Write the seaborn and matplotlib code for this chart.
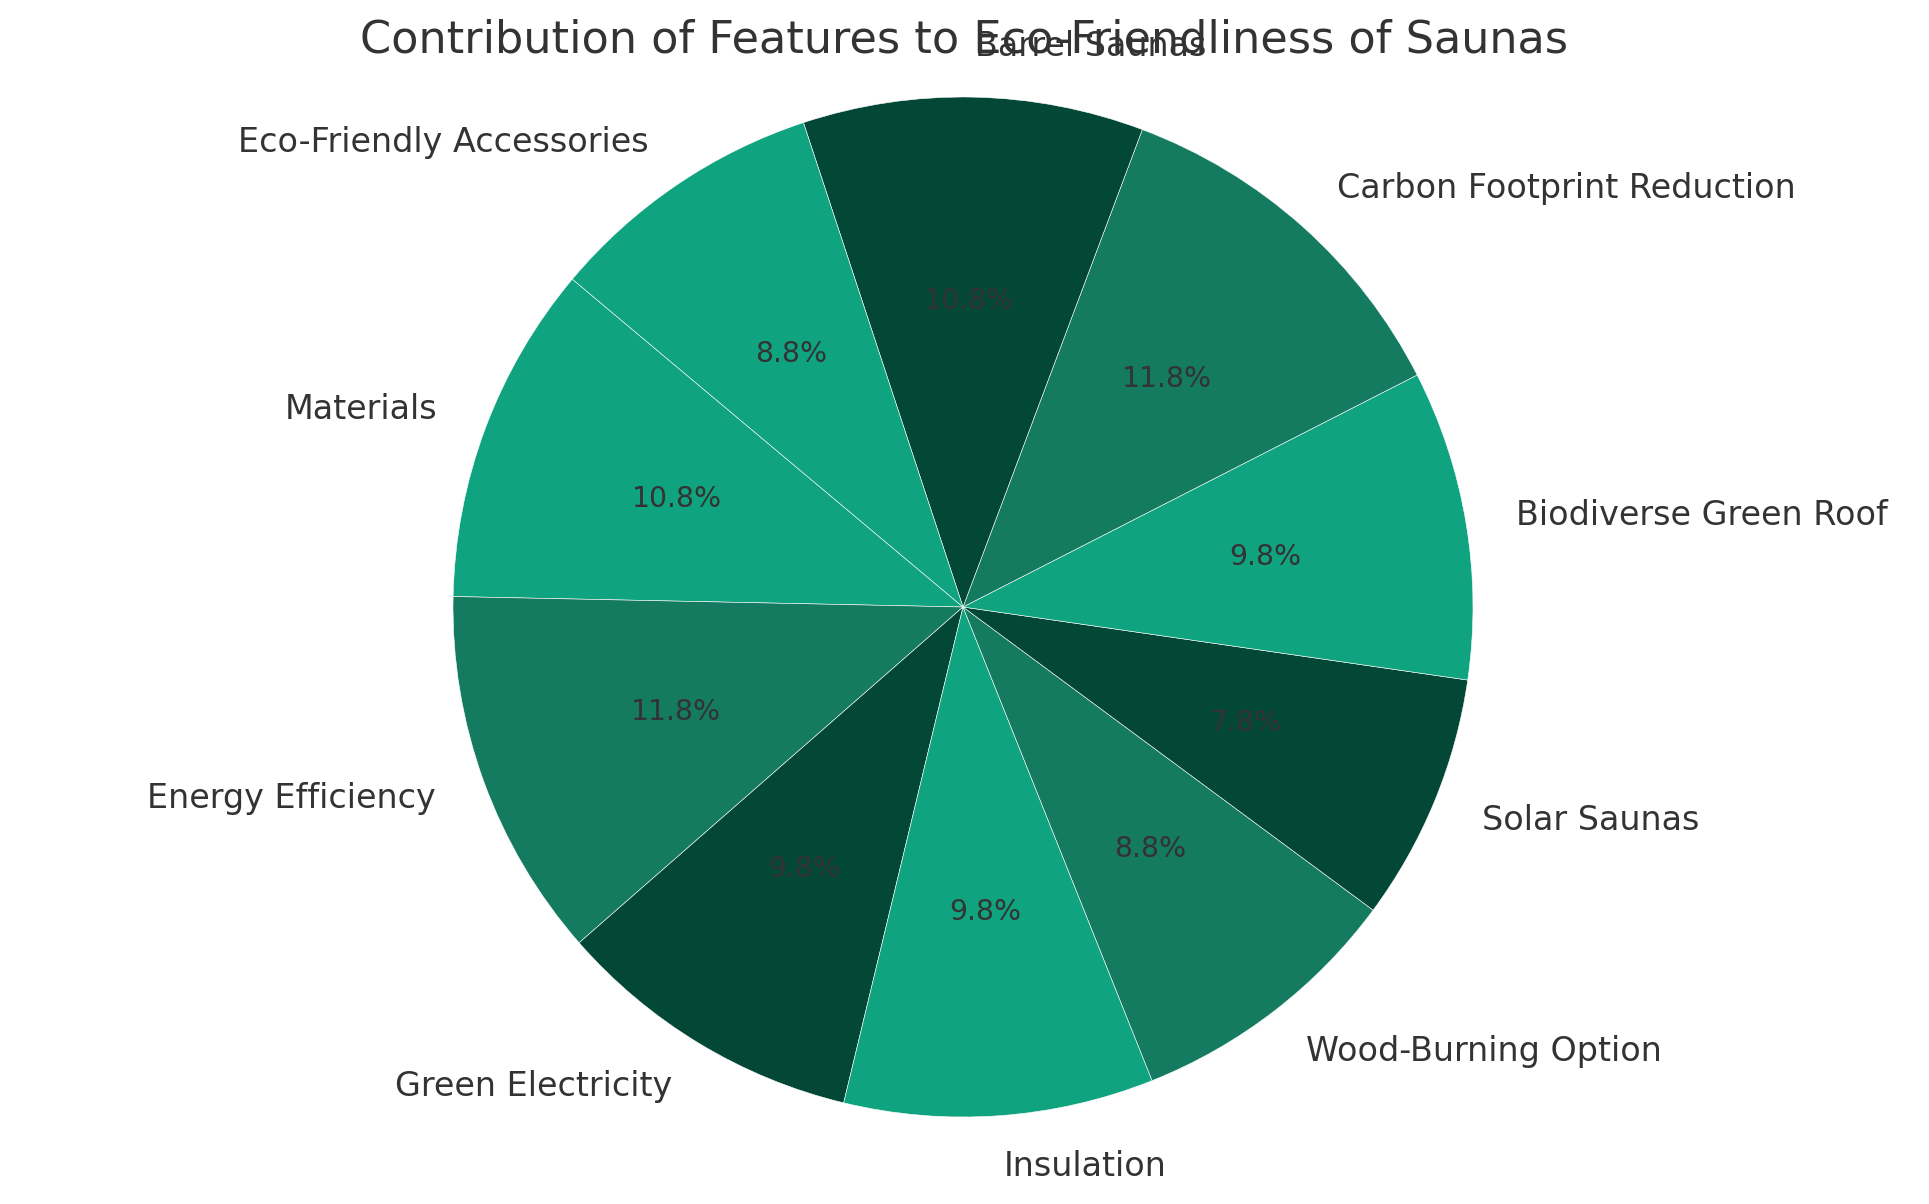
"""Pie chart: contribution of features to eco-friendliness of saunas."""
import matplotlib
matplotlib.use("Agg")
import matplotlib.pyplot as plt
import seaborn as sns

features = [
    "Materials",
    "Energy Efficiency",
    "Green Electricity",
    "Insulation",
    "Wood-Burning Option",
    "Solar Saunas",
    "Biodiverse Green Roof",
    "Carbon Footprint Reduction",
    "Barrel Saunas",
    "Eco-Friendly Accessories",
]
scores = [11, 12, 10, 10, 9, 8, 10, 12, 11, 9]
green_shades = ["#10A37F", "#147A60", "#034737"]

sns.set_theme(style="white")
plt.rcParams["font.family"] = ["DejaVu Sans"]
plt.rcParams["text.color"] = "#333333"

palette = sns.color_palette(green_shades)
colors = [palette[i % len(palette)] for i in range(len(features))]

fig = plt.figure(figsize=(19.29, 12.04), dpi=100)
ax = fig.add_axes([0, 0, 1, 1])
wedges, texts, autotexts = ax.pie(
    scores,
    labels=features,
    colors=colors,
    autopct="%1.1f%%",
    startangle=140,
    wedgeprops={"edgecolor": "white", "linewidth": 0.4},
    textprops={"fontsize": 24, "color": "#333333"},
)
for t in autotexts:
    t.set_fontsize(20.4)
    t.set_color("#333333")

# place the pie: centre at (963, 607) px, radius 510 px
scale = 510
ax.set_aspect("auto")
ax.set_xlim(-963 / scale, (1929 - 963) / scale)
ax.set_ylim(-(1204 - 607) / scale, 607 / scale)
ax.axis("off")

fig.text(0.5, 1 - 40 / 1204, "Contribution of Features to Eco-Friendliness of Saunas",
         ha="center", va="center", fontsize=32.1, color="#333333")

fig.savefig("out.png", dpi=100)
